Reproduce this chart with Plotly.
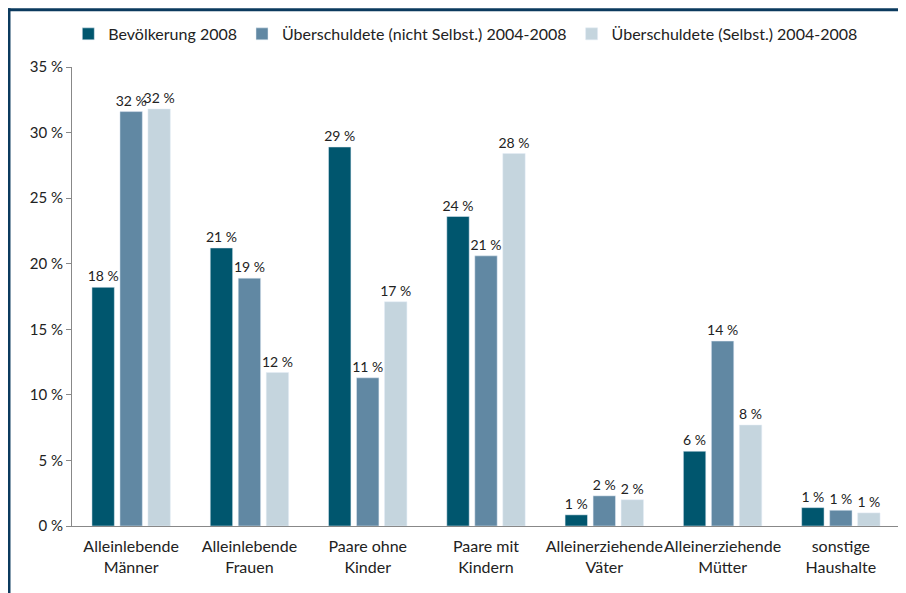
import plotly.graph_objects as go

categories = ["Alleinlebende<br>Männer", "Alleinlebende<br>Frauen", "Paare ohne<br>Kinder",
              "Paare mit<br>Kindern", "Alleinerziehende<br>Väter", "Alleinerziehende<br>Mütter",
              "sonstige<br>Haushalte"]
bevoelkerung = [18.2, 21.2, 28.9, 23.6, 0.85, 5.7, 1.4]
nicht_selbst = [31.6, 18.9, 11.3, 20.6, 2.3, 14.1, 1.2]
selbst = [31.8, 11.7, 17.1, 28.4, 2.0, 7.7, 1.0]
series_names = ["Bevölkerung 2008", "Überschuldete (nicht Selbst.) 2004-2008",
                "Überschuldete (Selbst.) 2004-2008"]
colors = ["#00566e", "#6188a3", "#c5d5de"]
y_ticks = [0, 5, 10, 15, 20, 25, 30, 35]

font = "Lato, sans-serif"

fig = go.Figure()
for name, vals, c in zip(series_names, [bevoelkerung, nicht_selbst, selbst], colors):
    fig.add_trace(go.Bar(
        x=categories, y=vals, name=name, marker_color=c,
        texttemplate="%{y:.0f} %", textposition="outside", constraintext="none",
        textfont=dict(size=14, color="#222222", family=font),
        cliponaxis=False,
    ))

# page body has an 8px margin, so the figure is a bit smaller than the window
fig.update_layout(
    width=898, height=585,
    plot_bgcolor="white", paper_bgcolor="white",
    barmode="group", bargap=0.29, bargroupgap=0.2,
    margin=dict(l=64, r=6, t=59, b=67),
    font=dict(family=font, size=15, color="#222222"),
    legend=dict(orientation="h", x=0.475, xanchor="center", y=1.072, yanchor="middle",
                font=dict(size=16, family=font), itemwidth=30, bgcolor="rgba(0,0,0,0)",
                traceorder="normal", tracegroupgap=0),
    showlegend=True,
)
fig.update_yaxes(range=[0, 35], tickvals=y_ticks, ticktext=[f"{v} %" for v in y_ticks],
                 showgrid=False, showline=True, linecolor="#888888", linewidth=1,
                 ticks="outside", ticklen=5, tickcolor="#888888", zeroline=False,
                 tickfont=dict(size=15))
fig.update_xaxes(showline=True, linecolor="#888888", linewidth=1, ticks="", tickangle=0,
                 tickfont=dict(size=16), ticklabelstandoff=6)

# dark frame at top and left edges
fig.add_shape(type="line", xref="paper", yref="paper", x0=-0.078, x1=1.02, y0=1.125, y1=1.125,
              line=dict(color="#0b3a5e", width=3))
fig.add_shape(type="line", xref="paper", yref="paper", x0=-0.0761, x1=-0.0761, y0=-0.2, y1=1.128,
              line=dict(color="#0b3a5e", width=3))

fig.write_html("out.html")
